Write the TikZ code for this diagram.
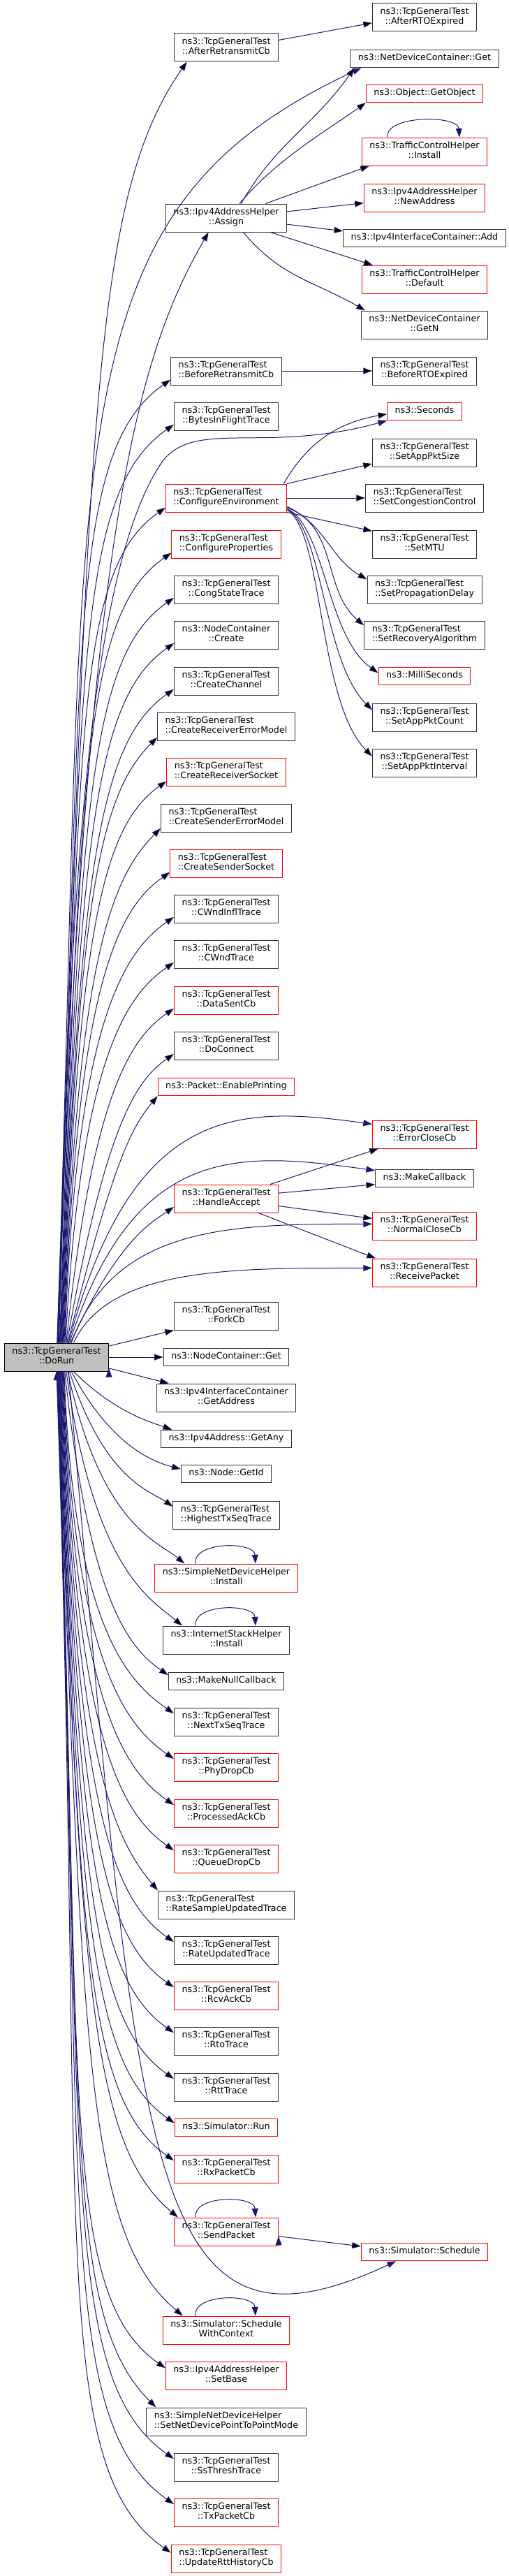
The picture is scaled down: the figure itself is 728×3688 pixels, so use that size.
\documentclass[tikz,border=0pt]{standalone}
\usepackage{fontspec}
\setmainfont{DejaVu Sans}
\usepackage{xcolor}
\usetikzlibrary{arrows.meta, calc}

\definecolor{midnight}{HTML}{191970}
\definecolor{rootgrey}{HTML}{BFBFBF}
\newcommand\doxfont{\fontsize{12.7}{14.5}\selectfont}

% two label lines: the upper one left aligned when the lower one is wider
\newlength\linea
\newlength\lineb
\newcommand\twoline[2]{\settowidth\linea{#1}\settowidth\lineb{#2}%
  \ifdim\linea<\lineb \makebox[\lineb][l]{#1}\else #1\fi\\#2\strut}
\newcommand\tgt[1]{\twoline{ns3::TcpGeneralTest}{::#1}}

\tikzset{
  fn/.style={draw=black!80, fill=white, line width=1pt, font=\doxfont, align=center,
    inner xsep=11pt, inner ysep=2pt, minimum height=25.5pt, execute at begin node=\strut},
  fnred/.style={fn, draw=red},
  root/.style={fn, fill=rootgrey, draw=black},
  tall/.style={minimum height=40pt},
  call/.style={draw=midnight, line width=1pt, -{Triangle[length=12.7pt, width=8.9pt]}},
  % long calls out of DoRun: out angle, in angle
  fan/.style n args={2}{to path={let \p1=(\tikztostart), \p2=(\tikztotarget),
    \n1={0.7*abs(\y2-\y1)+0.2*abs(\x2-\x1)}, \n2={0.12*abs(\y2-\y1)+0.1*abs(\x2-\x1)}
    in .. controls +(#1:\n1) and +(#2:\n2) .. (\tikztotarget)}},
  % short curved calls: out angle, out length, in angle, in length
  swing/.style n args={4}{to path={.. controls +(#1:#2) and +(#3:#4) .. (\tikztotarget)}},
}

\begin{document}
\begin{tikzpicture}[x=1pt, y=1pt]
\useasboundingbox (0,0) rectangle (728,-3688);

% caller
\node[root,tall] (run) at (81,-1943) {\tgt{DoRun}};

% called from DoRun
\node[fn,tall] (after) at (324,-68) {\tgt{AfterRetransmitCb}};
\node[fn,tall] (assign) at (324,-312) {\twoline{ns3::Ipv4AddressHelper}{::Assign}};
\node[fn,tall] (before) at (324,-531) {\tgt{BeforeRetransmitCb}};
\node[fn,tall] (bytes) at (324,-596) {\tgt{BytesInFlightTrace}};
\node[fnred,tall] (confenv) at (324,-713) {\tgt{ConfigureEnvironment}};
\node[fnred,tall] (confprop) at (324,-779) {\tgt{ConfigureProperties}};
\node[fn,tall] (cong) at (324,-844) {\tgt{CongStateTrace}};
\node[fn,tall] (create) at (324,-909) {\twoline{ns3::NodeContainer}{::Create}};
\node[fn,tall] (chan) at (324,-975) {\tgt{CreateChannel}};
\node[fn,tall] (rxerr) at (324,-1040) {\tgt{CreateReceiverErrorModel}};
\node[fnred,tall] (rxsock) at (324,-1105) {\tgt{CreateReceiverSocket}};
\node[fn,tall] (txerr) at (324,-1171) {\tgt{CreateSenderErrorModel}};
\node[fnred,tall] (txsock) at (324,-1236) {\tgt{CreateSenderSocket}};
\node[fn,tall] (cwndinfl) at (324,-1301) {\tgt{CWndInflTrace}};
\node[fn,tall] (cwnd) at (324,-1366) {\tgt{CWndTrace}};
\node[fnred,tall] (datasent) at (324,-1432) {\tgt{DataSentCb}};
\node[fn,tall] (connect) at (324,-1497) {\tgt{DoConnect}};
\node[fnred] (print) at (324,-1556) {ns3::Packet::EnablePrinting};
\node[fnred,tall] (accept) at (324,-1716) {\tgt{HandleAccept}};
\node[fn,tall] (fork) at (324,-1884) {\tgt{ForkCb}};
\node[fn] (nodeget) at (324,-1943) {ns3::NodeContainer::Get};
\node[fn,tall] (getaddr) at (324,-2001) {\twoline{ns3::Ipv4InterfaceContainer}{::GetAddress}};
\node[fn] (getany) at (324,-2060) {ns3::Ipv4Address::GetAny};
\node[fn] (getid) at (324,-2110) {ns3::Node::GetId};
\node[fn,tall] (hightx) at (324,-2169) {\tgt{HighestTxSeqTrace}};
\node[fnred,tall] (sndinst) at (324,-2259) {\twoline{ns3::SimpleNetDeviceHelper}{::Install}};
\node[fn,tall] (isinst) at (324,-2348) {\twoline{ns3::InternetStackHelper}{::Install}};
\node[fn] (nullcb) at (324,-2407) {ns3::MakeNullCallback};
\node[fn,tall] (nexttx) at (324,-2465) {\tgt{NextTxSeqTrace}};
\node[fnred,tall] (phydrop) at (324,-2530) {\tgt{PhyDropCb}};
\node[fnred,tall] (procack) at (324,-2596) {\tgt{ProcessedAckCb}};
\node[fnred,tall] (qdrop) at (324,-2661) {\tgt{QueueDropCb}};
\node[fn,tall] (ratesample) at (324,-2727) {\tgt{RateSampleUpdatedTrace}};
\node[fn,tall] (rateupd) at (324,-2792) {\tgt{RateUpdatedTrace}};
\node[fnred,tall] (rcvack) at (324,-2857) {\tgt{RcvAckCb}};
\node[fn,tall] (rto) at (324,-2922) {\tgt{RtoTrace}};
\node[fn,tall] (rtt) at (324,-2988) {\tgt{RttTrace}};
\node[fnred] (simrun) at (324,-3046) {ns3::Simulator::Run};
\node[fnred,tall] (rxpkt) at (324,-3105) {\tgt{RxPacketCb}};
\node[fnred,tall] (sendpkt) at (324,-3195) {\tgt{SendPacket}};
\node[fnred,tall] (schedctx) at (324,-3336) {\twoline{ns3::Simulator::Schedule}{WithContext}};
\node[fnred,tall] (setbase) at (324,-3401) {\twoline{ns3::Ipv4AddressHelper}{::SetBase}};
\node[fn,tall] (p2p) at (324,-3467) {\twoline{ns3::SimpleNetDeviceHelper}{::SetNetDevicePointToPointMode}};
\node[fn,tall] (ssthresh) at (324,-3532) {\tgt{SsThreshTrace}};
\node[fnred,tall] (txpkt) at (324,-3597) {\tgt{TxPacketCb}};
\node[fnred,tall] (rtthist) at (324,-3663) {\tgt{UpdateRttHistoryCb}};

% next level
\node[fn,tall] (rtoexp) at (608,-25) {\tgt{AfterRTOExpired}};
\node[fn] (ndcget) at (608,-84) {ns3::NetDeviceContainer::Get};
\node[fnred] (getobj) at (608,-134) {ns3::Object::GetObject};
\node[fnred,tall] (tcinst) at (608,-217) {\twoline{ns3::TrafficControlHelper}{::Install}};
\node[fnred,tall] (newaddr) at (608,-283) {\twoline{ns3::Ipv4AddressHelper}{::NewAddress}};
\node[fn] (ifadd) at (608,-341) {ns3::Ipv4InterfaceContainer::Add};
\node[fnred,tall] (tcdef) at (608,-400) {\twoline{ns3::TrafficControlHelper}{::Default}};
\node[fn,tall] (getn) at (608,-465) {\twoline{ns3::NetDeviceContainer}{::GetN}};
\node[fn,tall] (brtoexp) at (608,-531) {\tgt{BeforeRTOExpired}};
\node[fnred] (seconds) at (608,-589) {ns3::Seconds};
\node[fn,tall] (pktsize) at (608,-648) {\tgt{SetAppPktSize}};
\node[fn,tall] (setcc) at (608,-713) {\tgt{SetCongestionControl}};
\node[fn,tall] (setmtu) at (608,-779) {\tgt{SetMTU}};
\node[fn,tall] (propdelay) at (608,-844) {\tgt{SetPropagationDelay}};
\node[fn,tall] (recovery) at (608,-909) {\tgt{SetRecoveryAlgorithm}};
\node[fnred] (millis) at (608,-968) {ns3::MilliSeconds};
\node[fn,tall] (pktcount) at (608,-1027) {\tgt{SetAppPktCount}};
\node[fn,tall] (pktint) at (608,-1092) {\tgt{SetAppPktInterval}};
\node[fnred,tall] (errclose) at (608,-1624) {\tgt{ErrorCloseCb}};
\node[fn] (makecb) at (608,-1687) {ns3::MakeCallback};
\node[fnred,tall] (normclose) at (608,-1755) {\tgt{NormalCloseCb}};
\node[fnred,tall] (rcvpkt) at (608,-1822) {\tgt{ReceivePacket}};
\node[fnred] (sched) at (608,-3224) {ns3::Simulator::Schedule};

% DoRun, calls above it
\draw[call]
  (run.88) edge[fan={88}{235}] (after.200)
  (run.86) edge[fan={88}{240}] (assign.219)
  (run.84) edge[fan={88}{215}] (before.189)
  (run.82) edge[fan={88}{215}] (bytes.189)
  (run.78) edge[fan={88}{215}] (confenv.189)
  (run.76) edge[fan={88}{215}] (confprop.189)
  (run.74) edge[fan={88}{215}] (cong.189)
  (run.72) edge[fan={88}{215}] (create.189)
  (run.70) edge[fan={88}{215}] (chan.189)
  (run.68) edge[fan={88}{225}] (rxerr.189)
  (run.66) edge[fan={88}{215}] (rxsock.189)
  (run.64) edge[fan={88}{225}] (txerr.189)
  (run.62) edge[fan={88}{215}] (txsock.189)
  (run.60) edge[fan={88}{215}] (cwndinfl.189)
  (run.58) edge[fan={87}{215}] (cwnd.189)
  (run.56) edge[fan={84}{215}] (datasent.189)
  (run.54) edge[fan={80}{215}] (connect.189)
  (run.52) edge[fan={76}{230}] (print.south west)
  (run.46) edge[fan={65}{215}] (accept.189)
  (run.12) edge (fork.south west)
  (run.east) edge (nodeget.west)
  (run.-12) edge ([xshift=18pt]getaddr.north west);

% DoRun, calls below it
\draw[call]
  (run.-40) edge[fan={-45}{160}] ([xshift=16pt]getany.north west)
  (run.-44) edge[fan={-62}{165}] (getid.174)
  (run.-48) edge[fan={-72}{145}] (hightx.171)
  (run.-52) edge[fan={-78}{140}] ([xshift=43pt]sndinst.north west)
  (run.-56) edge[fan={-82}{140}] ([xshift=28pt]isinst.north west)
  (run.-60) edge[fan={-84}{145}] (nullcb.174)
  (run.-62) edge[fan={-88}{145}] (nexttx.171)
  (run.-64) edge[fan={-88}{145}] (phydrop.171)
  (run.-66) edge[fan={-88}{145}] (procack.171)
  (run.-68) edge[fan={-88}{145}] (qdrop.171)
  (run.-70) edge[fan={-88}{130}] (ratesample.north west)
  (run.-72) edge[fan={-88}{145}] (rateupd.171)
  (run.-74) edge[fan={-88}{145}] (rcvack.171)
  (run.-76) edge[fan={-88}{145}] (rto.171)
  (run.-78) edge[fan={-88}{145}] (rtt.171)
  (run.-80) edge[fan={-88}{145}] (simrun.175)
  (run.-82) edge[fan={-88}{145}] (rxpkt.171)
  (run.-83) edge[fan={-88}{140}] ([xshift=6pt]sendpkt.north west)
  (run.-85) edge[fan={-88}{140}] ([xshift=29pt]schedctx.north west)
  (run.-86) edge[fan={-88}{145}] (setbase.173)
  (run.-87) edge[fan={-88}{135}] ([xshift=14pt]p2p.north west)
  (run.-88) edge[fan={-88}{145}] (ssthresh.171)
  (run.-89) edge[fan={-88}{145}] (txpkt.171)
  (run.-90) edge[fan={-88}{145}] (rtthist.174);

% DoRun, calls into the last column
\draw[call] (run.87) .. controls +(88:1300) and +(205:500) .. ([xshift=16pt]ndcget.south west);
\draw[call] (run.80) .. controls (100,-1100) and (150,-780) .. (233,-660)
  .. controls (280,-600) and (380,-650) .. (seconds.south west);
\draw[call] (run.50) .. controls +(75:350) and +(172:200) .. (errclose.169);
\draw[call] (run.48) .. controls +(72:300) and +(172:200) .. (makecb.171);
\draw[call] (run.44) .. controls +(70:180) and +(180:200) .. (normclose.178);
\draw[call] (run.40) .. controls +(65:120) and +(180:200) .. (rcvpkt.175);
\draw[call] (run.-50) .. controls +(-85:1150) and +(205:400) .. (sched.198);

% second level calls
\draw[call]
  (after.8) edge (rtoexp.186)
  (assign.44) edge[swing={60}{100}{235}{100}] ([xshift=6pt]ndcget.south west)
  (assign.47) edge[swing={50}{80}{215}{80}] (getobj.south west)
  (assign.20) edge ([xshift=11pt]tcinst.south west)
  (assign.6) edge (newaddr.185)
  (assign.-6) edge (ifadd.175)
  (assign.-18) edge ([xshift=16pt]tcdef.north west)
  (assign.-40) edge[swing={-50}{85}{150}{85}] ([xshift=6pt]getn.north west)
  (before.east) edge (brtoexp.west)
  (confenv.14) edge[swing={60}{70}{190}{70}] (seconds.184)
  (confenv.north east) edge (pktsize.192)
  (confenv.east) edge (setcc.west)
  (confenv.south east) edge (setmtu.166)
  (confenv.-8) edge[swing={-25}{60}{150}{60}] (propdelay.170)
  (confenv.-9) edge[swing={-20}{78}{140}{78}] (recovery.171)
  (confenv.-10) edge[swing={-25}{60}{145}{90}] (millis.176)
  (confenv.-10) edge[swing={-30}{60}{135}{100}] (pktcount.172)
  (confenv.-11) edge[swing={-30}{60}{135}{110}] (pktint.173)
  (accept.18) edge ([xshift=9pt]errclose.south west)
  (accept.6) edge (makecb.187)
  (accept.-8) edge (normclose.172)
  (accept.-24) edge ([xshift=5pt]rcvpkt.north west)
  (sendpkt.-5) edge (sched.175);

% recursive calls
\draw[call] ([xshift=-53pt]tcinst.north) .. controls +(-4,32) and +(-2,32) .. ([xshift=50pt]tcinst.north);
\draw[call] ([xshift=-44pt]sndinst.north) .. controls +(-4,32) and +(-2,32) .. ([xshift=42pt]sndinst.north);
\draw[call] ([xshift=-44pt]isinst.north) .. controls +(-4,32) and +(-2,32) .. ([xshift=42pt]isinst.north);
\draw[call] ([xshift=-44pt]sendpkt.north) .. controls +(-4,32) and +(-2,32) .. ([xshift=42pt]sendpkt.north);
\draw[call] ([xshift=-44pt]schedctx.north) .. controls +(-4,32) and +(-2,32) .. ([xshift=42pt]schedctx.north);
\end{tikzpicture}
\end{document}
